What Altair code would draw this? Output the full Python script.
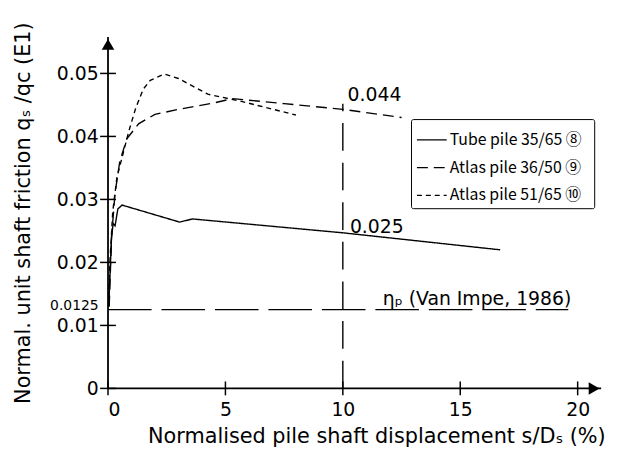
import altair as alt
import pandas as pd

FONT = "DejaVu Sans"
LEG_FONT = "Noto Sans CJK JP"

# ---- data ----
series_names = ["Tube pile   35/65 \u2467", "Atlas pile  36/50 \u2468", "Atlas pile  51/65 \u2469"]

tube_s = [0.03, 0.15, 0.22, 0.30, 0.42, 0.60, 3.05, 3.60, 10.0, 16.7]
tube_q = [0.013, 0.024, 0.0262, 0.0258, 0.0285, 0.0291, 0.0264, 0.0269, 0.0247, 0.0220]

a3650_s = [0.05, 0.15, 0.30, 0.50, 0.80, 1.30, 2.00, 3.00, 4.50, 5.30, 7.50, 10.0, 12.5]
a3650_q = [0.013, 0.024, 0.031, 0.036, 0.0396, 0.042, 0.0435, 0.0443, 0.0453, 0.0460, 0.0452, 0.0443, 0.0430]

a5165_s = [0.02, 0.08, 0.20, 0.38, 0.67, 0.90, 1.18, 1.50, 1.80, 2.40, 3.00, 4.25, 5.64, 8.00]
a5165_q = [0.013, 0.020, 0.028, 0.0335, 0.0377, 0.041, 0.0445, 0.0475, 0.0489, 0.0499, 0.0492, 0.0467, 0.0456, 0.0434]

ref_h_s = [0.0, 19.6]
ref_h_q = [0.0125, 0.0125]
ref_v_s = [10.0, 10.0]
ref_v_q = [0.0, 0.0452]

ann_text = ["0.044", "0.025", "\u03b7\u209a (Van Impe, 1986)"]
ann_s = [10.2, 10.3, 11.7]
ann_q = [0.0456, 0.0247, 0.0132]

x_ticks = [0, 5, 10, 15, 20]
y_ticks = [0, 0.01, 0.0125, 0.02, 0.03, 0.04, 0.05]
X_MAX = 21.0
Y_MAX = 0.0558

# ---- tables ----
rows = []
for name, xs, qs in zip(series_names, [tube_s, a3650_s, a5165_s], [tube_q, a3650_q, a5165_q]):
    for i, (sv, qv) in enumerate(zip(xs, qs)):
        rows.append({"series": name, "s": sv, "q": qv, "order": i})
curves = pd.DataFrame(rows)

xs = alt.Scale(domain=[0, X_MAX], nice=False, zero=False)
ys = alt.Scale(domain=[0, Y_MAX], nice=False, zero=False)

x_axis = alt.Axis(values=x_ticks, domain=False, ticks=False, grid=False,
                  labelFontSize=19, labelFont=FONT, labelPadding=12, labelColor="black",
                  title="Normalised pile shaft displacement  s/D\u209b (%)",
                  titleFontSize=21, titleFont=FONT, titleFontWeight="normal", titleColor="black",
                  titlePadding=7, titleX=271, titleAlign="center")
y_axis = alt.Axis(values=y_ticks, domain=False, ticks=False, grid=False, format=".4~f",
                  labelFontSize=alt.condition("datum.value == 0.0125", alt.value(14), alt.value(19)),
                  labelBaseline=alt.condition("datum.value == 0.0125", alt.value("alphabetic"), alt.value("middle")),
                  labelFont=FONT, labelPadding=10, labelColor="black", labelOverlap=False,
                  title="Normal. unit shaft friction  q\u209b /qc (E1)",
                  titleFontSize=21, titleFont=FONT, titleFontWeight="normal", titleColor="black",
                  titlePadding=16)

lines = alt.Chart(curves).mark_line(color="black", strokeWidth=1.4).encode(
    x=alt.X("s:Q", scale=xs, axis=x_axis),
    y=alt.Y("q:Q", scale=ys, axis=y_axis),
    strokeDash=alt.StrokeDash(
        "series:N",
        scale=alt.Scale(domain=series_names, range=[[1, 0], [11, 6], [5, 4]]),
        legend=alt.Legend(title=None, orient="none", legendX=306, legendY=83,
                          strokeColor="black", fillColor="white", padding=5, cornerRadius=2,
                          symbolType="stroke", symbolSize=900, symbolStrokeWidth=1.4,
                          symbolStrokeColor="black",
                          labelFont=LEG_FONT, labelFontSize=16, labelColor="black",
                          rowPadding=4, labelOffset=2),
    ),
    order="order:Q",
)

href = alt.Chart(pd.DataFrame({"s": ref_h_s, "q": ref_h_q})).mark_line(
    color="black", strokeWidth=1.4, strokeDash=[44, 10]).encode(
    x=alt.X("s:Q", scale=xs), y=alt.Y("q:Q", scale=ys))
vref = alt.Chart(pd.DataFrame({"s": ref_v_s, "q": ref_v_q})).mark_line(
    color="black", strokeWidth=1.4, strokeDash=[28, 12]).encode(
    x=alt.X("s:Q", scale=xs), y=alt.Y("q:Q", scale=ys))

axes_df = pd.DataFrame({"x": [0, 0], "y": [0, 0], "x2": [X_MAX, 0], "y2": [0, Y_MAX]})
axes = alt.Chart(axes_df).mark_rule(color="black", strokeWidth=1.8).encode(
    x=alt.X("x:Q", scale=xs), y=alt.Y("y:Q", scale=ys), x2="x2:Q", y2="y2:Q")

arrow_r = alt.Chart(pd.DataFrame({"x": [X_MAX - 0.3], "y": [0]})).mark_point(
    shape="triangle-right", filled=True, color="black", size=160, opacity=1).encode(
    x=alt.X("x:Q", scale=xs), y=alt.Y("y:Q", scale=ys))
arrow_u = alt.Chart(pd.DataFrame({"x": [0], "y": [Y_MAX - 0.0012]})).mark_point(
    shape="triangle-up", filled=True, color="black", size=160, opacity=1).encode(
    x=alt.X("x:Q", scale=xs), y=alt.Y("y:Q", scale=ys))

yt = alt.Chart(pd.DataFrame({"y": [v for v in y_ticks if v != 0.0125], "x": 0})).mark_tick(
    orient="horizontal", size=16, thickness=1.5, color="black", opacity=1).encode(
    x=alt.X("x:Q", scale=xs), y=alt.Y("y:Q", scale=ys))
xt = alt.Chart(pd.DataFrame({"x": x_ticks, "y": 0})).mark_tick(
    orient="vertical", size=14, thickness=1.5, color="black", opacity=1).encode(
    x=alt.X("x:Q", scale=xs), y=alt.Y("y:Q", scale=ys))

ann = alt.Chart(pd.DataFrame({"t": ann_text, "s": ann_s, "q": ann_q})).mark_text(
    align="left", baseline="alphabetic", font=FONT, fontSize=19, color="black").encode(
    x=alt.X("s:Q", scale=xs), y=alt.Y("q:Q", scale=ys), text="t:N")

chart = alt.layer(href, vref, lines, axes, arrow_r, arrow_u, yt, xt, ann).properties(
    width=498, height=355,
    autosize=alt.AutoSizeParams(type="none"),
    padding={"left": 101, "top": 27, "right": 14, "bottom": 58},
    background="white",
).configure_view(stroke=None)

chart.save("out.html", embed_options={"renderer": "svg", "actions": False})
